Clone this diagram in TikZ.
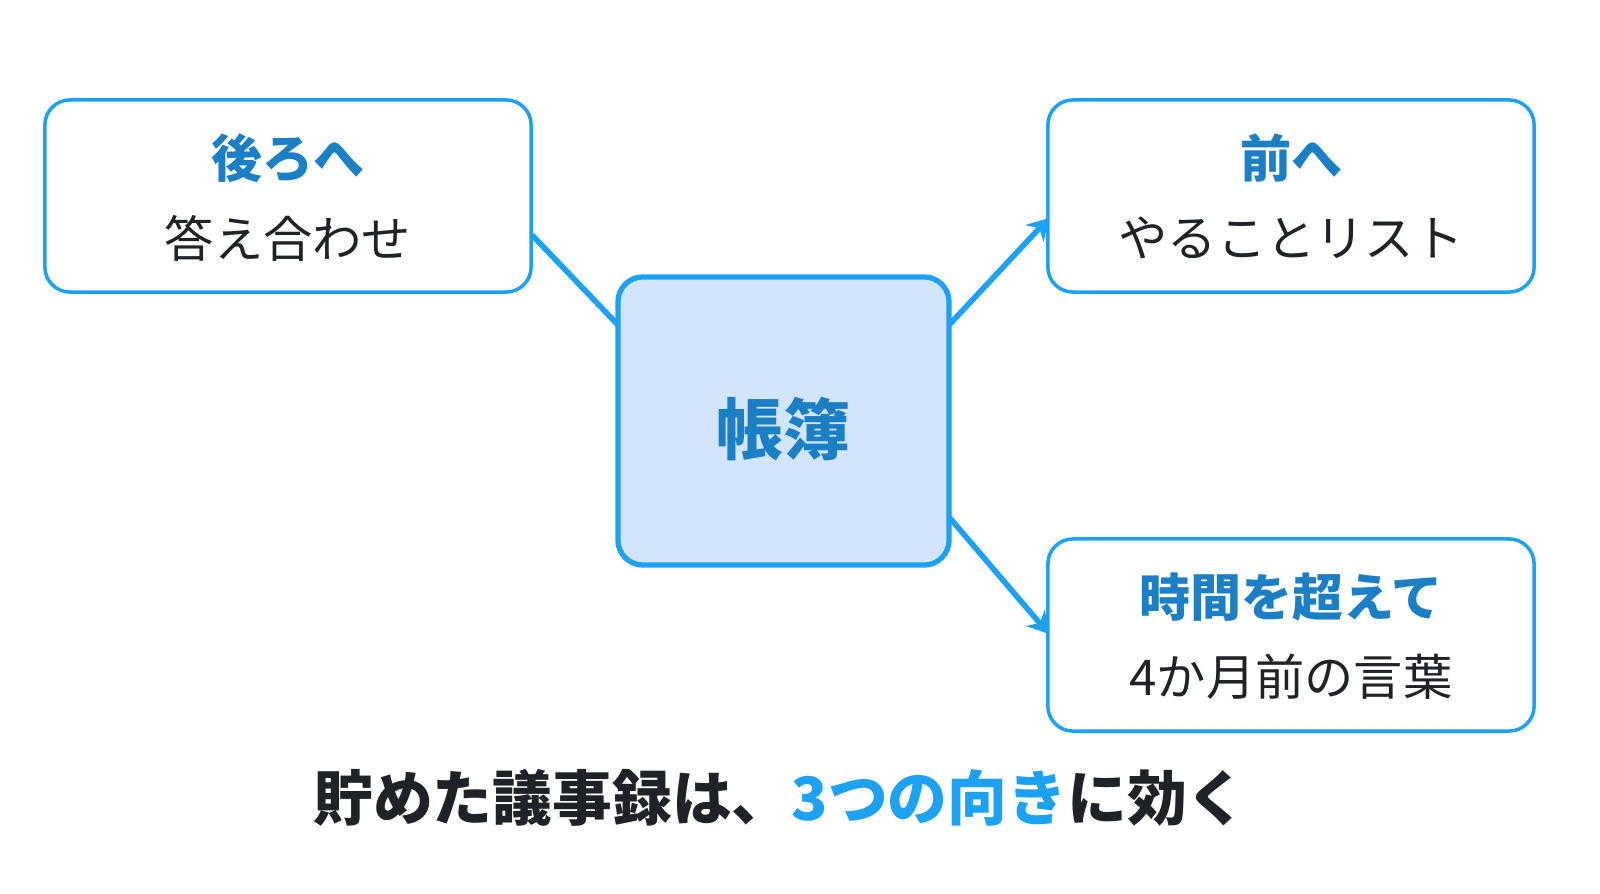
\documentclass[tikz,border=0pt]{standalone}
\usepackage{fontspec}
\setmainfont{Noto Sans CJK JP}
\usetikzlibrary{arrows.meta}
\definecolor{blu}{HTML}{1DA1F2}
\definecolor{dblu}{HTML}{1A7FC4}
\definecolor{ink}{HTML}{1F2328}
\definecolor{fillb}{HTML}{D3E5FA}
\begin{document}
\begin{tikzpicture}[x=0.01cm,y=-0.01cm,
  box/.style={draw=blu,line width=1pt,rounded corners=0.25cm,fill=white,minimum width=4.86cm,minimum height=1.92cm,inner sep=0},
  head/.style={font=\fontsize{14.5}{16}\selectfont\bfseries,text=dblu},
  sub/.style={font=\fontsize{14}{16}\selectfont,text=ink},
  conn/.style={draw=blu,line width=1.6pt},
  tip/.style={-{Stealth[length=6pt,width=7pt]}}]
\useasboundingbox (0,0) rectangle (1600,894);
\node[box] (L) at (288,196) {};
\node[box] (R1) at (1291,196) {};
\node[box] (R2) at (1291,635) {};
\node[draw=blu,line width=1.5pt,rounded corners=0.25cm,fill=fillb,minimum width=3.31cm,minimum height=2.88cm] (C) at (783.5,421) {};
\coordinate (c1) at (618,325);
\coordinate (c2) at (949,325);
\coordinate (c3) at (949,517);
\coordinate (e1) at (532,235);
\coordinate (e2) at (1049,218);
\coordinate (e3) at (1049,634);
\draw[conn] (c1) -- (e1);
\draw[conn,tip] (c2) -- (e2);
\draw[conn,tip] (c3) -- (e3);
\node[text=dblu,font=\fontsize{19}{20}\selectfont\bfseries] (ct) at (783.5,429) {帳簿};
\node[head] (lh) at (288,158) {後ろへ};
\node[sub] (ls) at (288,238) {答え合わせ};
\node[head] (r1h) at (1291,158) {前へ};
\node[sub] (r1s) at (1291,238) {やることリスト};
\node[head] (r2h) at (1291,597) {時間を超えて};
\node[sub] (r2s) at (1291,677) {4か月前の言葉};
\node[font=\fontsize{17}{20}\selectfont\bfseries,text=ink] (title) at (780,798) {貯めた議事録は、\textcolor{blu}{3つの向き}に効く};
\end{tikzpicture}
\end{document}
